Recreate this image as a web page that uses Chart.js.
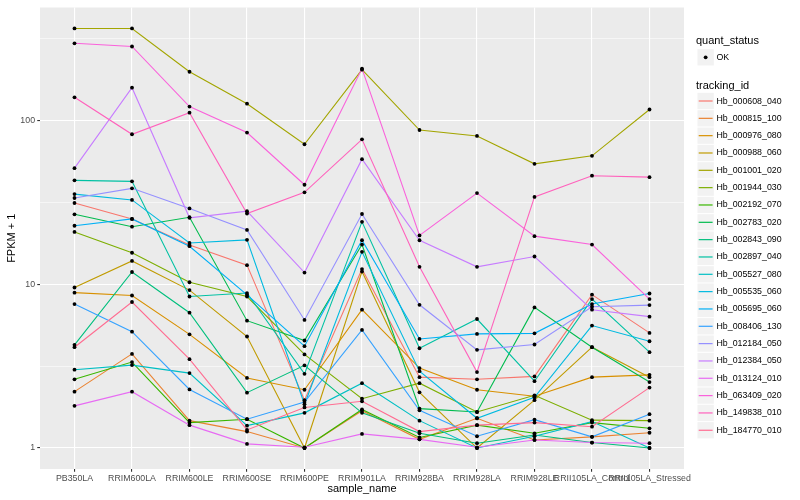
<!DOCTYPE html>
<html>
<head>
<meta charset="utf-8">
<script src="https://cdn.jsdelivr.net/npm/chart.js@4.4.1/dist/chart.umd.min.js"></script>
<style>
  html, body { margin: 0; padding: 0; background: #ffffff; }
  #wrap { position: relative; width: 800px; height: 500px; overflow: hidden;
          font-family: "Liberation Sans", Arial, Helvetica, sans-serif; }
  #c { position: absolute; left: 0; top: 0; }
  #lgsvg { position: absolute; left: 0; top: 0; }
  .lg-title { position: absolute; font-size: 11px; line-height: 13px; height: 13px; color: #000; white-space: nowrap; }
  .lg-text { position: absolute; font-size: 8.8px; line-height: 11px; height: 11px; color: #000; white-space: nowrap; }
</style>
</head>
<body>
<div id="wrap">
  <canvas id="c" width="800" height="500"></canvas>
  <svg id="lgsvg" width="800" height="500" xmlns="http://www.w3.org/2000/svg"></svg>
  <div id="legend"></div>
</div>
<script>
// ---------------- data ----------------
const categories = ["PB350LA", "RRIM600LA", "RRIM600LE", "RRIM600SE", "RRIM600PE", "RRIM901LA",
                    "RRIM928BA", "RRIM928LA", "RRIM928LE", "RRII105LA_Control", "RRII105LA_Stressed"];

const trackingIds = ["Hb_000608_040", "Hb_000815_100", "Hb_000976_080", "Hb_000988_060", "Hb_001001_020",
                     "Hb_001944_030", "Hb_002192_070", "Hb_002783_020", "Hb_002843_090", "Hb_002897_040",
                     "Hb_005527_080", "Hb_005535_060", "Hb_005695_060", "Hb_008406_130", "Hb_012184_050",
                     "Hb_012384_050", "Hb_013124_010", "Hb_063409_020", "Hb_149838_010", "Hb_184770_010"];

const seriesColors = ["#F8766D", "#EA8331", "#D89000", "#C09B00", "#A3A500", "#7CAE00", "#39B600", "#00BB4E",
                      "#00BF7D", "#00C1A3", "#00BFC4", "#00BAE0", "#00B0F6", "#35A2FF", "#9590FF", "#C77CFF",
                      "#E76BF3", "#FA62DB", "#FF62BC", "#FF6C91"];

// FPKM + 1 per sample (order of categories)
const Hb_000608_040 = [31.4, 25.1, 17.4, 13.1, 1.96, 12.4, 2.71, 2.63, 2.74, 8.65, 5.05];
const Hb_000815_100 = [2.21, 3.76, 1.47, 1.26, 1.00, 1.69, 1.13, 1.52, 1.12, 1.17, 1.24];
const Hb_000976_080 = [8.9, 8.55, 4.95, 2.68, 2.27, 7.0, 3.08, 2.27, 2.07, 2.71, 2.8];
const Hb_000988_060 = [9.57, 13.9, 9.22, 4.8, 1.0, 11.97, 2.19, 1.0, 1.96, 4.13, 2.71];
const Hb_001001_020 = [366, 366, 199, 127, 71.8, 205, 87.7, 80.7, 54.5, 61, 117];
const Hb_001944_030 = [20.9, 15.6, 10.3, 8.43, 3.73, 2.0, 2.49, 1.66, 2.1, 1.48, 1.47];
const Hb_002192_070 = [2.63, 3.35, 1.43, 1.5, 1.0, 1.72, 1.16, 1.38, 1.23, 1.43, 1.32];
const Hb_002783_020 = [26.8, 22.5, 25.7, 6.0, 4.54, 17.5, 1.74, 1.66, 7.23, 4.13, 2.53];
const Hb_002843_090 = [4.27, 11.9, 6.71, 2.18, 3.2, 1.64, 1.23, 1.07, 1.2, 1.08, 1.0];
const Hb_002897_040 = [43.2, 42.6, 8.43, 8.85, 2.84, 24.1, 4.07, 6.14, 2.56, 8.13, 3.85];
const Hb_005527_080 = [3.01, 3.21, 2.87, 1.37, 1.64, 2.49, 1.47, 1.0, 1.18, 1.45, 1.0];
const Hb_005535_060 = [35.6, 32.8, 17.9, 18.7, 1.85, 15.8, 2.95, 1.52, 2.04, 5.6, 4.49];
const Hb_005695_060 = [22.8, 25.1, 17.1, 8.63, 4.19, 18.6, 4.64, 4.98, 5.02, 7.58, 8.79];
const Hb_008406_130 = [7.58, 5.14, 2.28, 1.5, 1.91, 5.27, 1.70, 1.18, 1.49, 1.17, 1.61];
const Hb_012184_050 = [33.7, 38.6, 29.1, 21.5, 6.06, 26.9, 7.5, 3.98, 4.29, 7.3, 7.47];
const Hb_012384_050 = [51.3, 159, 25.5, 28, 11.8, 58.2, 18.6, 12.8, 14.8, 7.0, 6.35];
const Hb_013124_010 = [1.81, 2.21, 1.38, 1.06, 1.01, 1.22, 1.13, 1.01, 1.12, 1.08, 1.07];
const Hb_063409_020 = [297, 284, 122, 84.6, 40.6, 208, 19.9, 36.1, 19.7, 17.5, 8.13];
const Hb_149838_010 = [139, 82.6, 112, 27.1, 36.5, 76.9, 12.8, 2.91, 34.2, 46.1, 45.2];
const Hb_184770_010 = [4.13, 7.8, 3.49, 1.29, 1.77, 1.93, 1.26, 1.38, 1.43, 1.35, 2.34];

const seriesValues = [Hb_000608_040, Hb_000815_100, Hb_000976_080, Hb_000988_060, Hb_001001_020,
                      Hb_001944_030, Hb_002192_070, Hb_002783_020, Hb_002843_090, Hb_002897_040,
                      Hb_005527_080, Hb_005535_060, Hb_005695_060, Hb_008406_130, Hb_012184_050,
                      Hb_012384_050, Hb_013124_010, Hb_063409_020, Hb_149838_010, Hb_184770_010];

const quantStatus = ["OK"];
const yTickLabels = ["1", "10", "100"];
const yMajorBreaks = [1, 10, 100];
const yMinorBreaks = [Math.pow(10, 0.5), Math.pow(10, 1.5), Math.pow(10, 2.5)];

// ---------------- scale limits (ggplot-like 5% expansion on log scale) ----------------
const allVals = seriesValues.flat();
const lmin = Math.log10(Math.min(...allVals));
const lmax = Math.log10(Math.max(...allVals));
const lpad = 0.05 * (lmax - lmin);
const yMin = Math.pow(10, lmin - lpad);
const yMax = Math.pow(10, lmax + lpad);

// ---------------- datasets ----------------
const lineSets = seriesValues.map((vals, i) => ({
  type: 'line',
  label: trackingIds[i],
  data: vals.map((v, j) => ({ x: j, y: v })),
  borderColor: seriesColors[i],
  backgroundColor: seriesColors[i],
  borderWidth: 1.1,
  pointRadius: 0,
  tension: 0,
  fill: false,
  order: 100 - i
}));
const pointSets = seriesValues.map((vals, i) => ({
  type: 'line',
  label: trackingIds[i] + ' ' + quantStatus[0],
  data: vals.map((v, j) => ({ x: j, y: v })),
  showLine: false,
  pointRadius: 1.9,
  pointBorderWidth: 0,
  pointBackgroundColor: '#000000',
  pointBorderColor: '#000000',
  order: 0
}));

const panelBg = {
  id: 'panelBg',
  beforeDraw(chart) {
    const { ctx, chartArea: a } = chart;
    ctx.save();
    ctx.fillStyle = '#EBEBEB';
    ctx.fillRect(a.left, a.top, a.right - a.left, a.bottom - a.top);
    ctx.restore();
  }
};

const FONT = '"Liberation Sans", Arial, Helvetica, sans-serif';
const isMajor = (v) => yMajorBreaks.some(b => Math.abs(b - v) < 1e-9);

new Chart(document.getElementById('c'), {
  type: 'line',
  data: { datasets: [...lineSets, ...pointSets] },
  plugins: [panelBg],
  options: {
    responsive: false,
    animation: false,
    events: [],
    layout: { padding: { left: 0, right: 116, top: 5, bottom: 0 } },
    plugins: { legend: { display: false }, tooltip: { enabled: false } },
    scales: {
      x: {
        type: 'linear',
        min: -0.6,
        max: categories.length - 1 + 0.6,
        bounds: 'data',
        afterBuildTicks: (s) => { s.ticks = categories.map((c, i) => ({ value: i })); },
        afterFit: (s) => { s.height = 31; },
        border: { display: false },
        grid: { color: '#FFFFFF', lineWidth: 1.1, drawTicks: true, tickLength: 2.75,
                tickColor: '#333333', tickWidth: 1.1 },
        ticks: {
          autoSkip: false, maxRotation: 0, minRotation: 0, padding: 1.5,
          color: '#4D4D4D', font: { family: FONT, size: 8.8 },
          callback: (v) => categories[v] !== undefined ? categories[v] : ''
        },
        title: { display: true, text: 'sample_name', color: '#000000',
                 font: { family: FONT, size: 11 }, padding: { top: 0, bottom: 4.5 } }
      },
      y: {
        type: 'logarithmic',
        min: yMin,
        max: yMax,
        bounds: 'data',
        afterBuildTicks: (s) => {
          s.ticks = [...yMajorBreaks, ...yMinorBreaks].sort((a, b) => a - b).map(v => ({ value: v }));
        },
        afterFit: (s) => { s.width = 40; },
        border: { display: false },
        grid: {
          color: '#FFFFFF',
          lineWidth: (ctx) => (ctx.tick && isMajor(ctx.tick.value)) ? 1.1 : 0.55,
          drawTicks: true, tickLength: 2.75, tickWidth: 1.1,
          tickColor: (ctx) => (ctx.tick && isMajor(ctx.tick.value)) ? '#333333' : 'rgba(0,0,0,0)'
        },
        ticks: {
          padding: 2.2, color: '#4D4D4D', font: { family: FONT, size: 8.8 },
          callback: (v) => {
            const k = yMajorBreaks.findIndex(b => Math.abs(b - v) < 1e-9);
            return k >= 0 ? yTickLabels[k] : '';
          }
        },
        title: { display: true, text: 'FPKM + 1', color: '#000000',
                 font: { family: FONT, size: 11 }, padding: { top: 5.5, bottom: 0 } }
      }
    }
  }
});

// ---------------- legend (ggplot style: SVG keys, HTML text) ----------------
(function buildLegend() {
  const lg = document.getElementById('legend');
  const svg = document.getElementById('lgsvg');
  const NS = 'http://www.w3.org/2000/svg';
  const keyX = 697, keyS = 17.3, textX = 716.5;
  const svgEl = (tag, attrs) => {
    const e = document.createElementNS(NS, tag);
    for (const k in attrs) e.setAttribute(k, attrs[k]);
    svg.appendChild(e);
    return e;
  };
  const addText = (cls, x, y, text) => {
    const d = document.createElement('div');
    d.className = cls;
    d.style.left = x + 'px';
    d.style.top = y + 'px';
    d.textContent = text;
    lg.appendChild(d);
  };
  const key = (cy) => svgEl('rect', { x: keyX + 0.5, y: cy - keyS / 2 + 0.5, width: keyS - 1, height: keyS - 1,
                                      fill: '#F2F2F2', stroke: 'none' });
  // quant_status
  addText('lg-title', 696, 40.7 - 6.5, 'quant_status');
  quantStatus.forEach((q, k) => {
    const cy = 57.3 + k * keyS;
    key(cy);
    svgEl('circle', { cx: keyX + keyS / 2, cy: cy, r: 1.9, fill: '#000000' });
    addText('lg-text', textX, cy - 5.5, q);
  });
  // tracking_id
  addText('lg-title', 696, 85 - 6.5, 'tracking_id');
  trackingIds.forEach((id, k) => {
    const cy = 101 + k * 17.33;
    key(cy);
    svgEl('line', { x1: keyX + 1.7, x2: keyX + keyS - 1.7, y1: cy, y2: cy,
                    stroke: seriesColors[k], 'stroke-width': 1.2 });
    addText('lg-text', textX, cy - 5.5, id);
  });
})();
</script>
</body>
</html>
